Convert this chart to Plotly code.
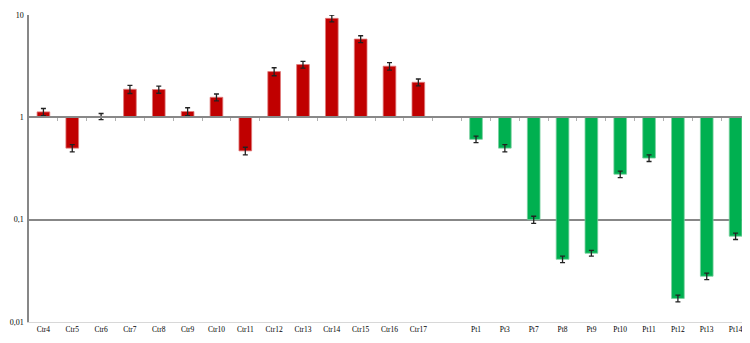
import plotly.graph_objects as go

ctr_labels = ["Ctr4", "Ctr5", "Ctr6", "Ctr7", "Ctr8", "Ctr9", "Ctr10", "Ctr11",
              "Ctr12", "Ctr13", "Ctr14", "Ctr15", "Ctr16", "Ctr17"]
ctr_values = [1.13, 0.50, 1.02, 1.88, 1.87, 1.14, 1.57, 0.47,
              2.80, 3.28, 9.27, 5.82, 3.16, 2.20]
ctr_err = [0.09, 0.04, 0.07, 0.17, 0.15, 0.10, 0.12, 0.04,
           0.25, 0.25, 0.70, 0.45, 0.27, 0.17]

pt_labels = ["Pt1", "Pt3", "Pt7", "Pt8", "Pt9", "Pt10", "Pt11", "Pt12", "Pt13", "Pt14"]
pt_values = [0.61, 0.50, 0.10, 0.041, 0.047, 0.278, 0.40, 0.017, 0.028, 0.069]
pt_err = [0.045, 0.04, 0.008, 0.003, 0.003, 0.02, 0.03, 0.0013, 0.002, 0.005]

gap_label = [" "]
all_categories = ctr_labels + gap_label + pt_labels

y_tick_vals = [0.01, 0.1, 1, 10]
y_tick_text = ["0,01", "0,1", "1", "10"]

baseline = 1
font_family = "Liberation Serif"

fig = go.Figure()

def add_bars(labels, values, errs, color, edge):
    fig.add_trace(go.Bar(
        x=labels,
        y=[v - baseline for v in values],
        base=baseline,
        width=0.44,
        marker=dict(color=color, line=dict(color=edge, width=0.8)),
        error_y=dict(type="data", array=errs, arrayminus=errs,
                     color="#222222", thickness=1.3, width=2.5, visible=True),
        showlegend=False,
        hoverinfo="x+y",
    ))

add_bars(ctr_labels, ctr_values, ctr_err, "#C00000", "#E07A7A")
add_bars(pt_labels, pt_values, pt_err, "#00B050", "#7ACFA0")

# invisible helper so the tick-mark axis at y=1 is rendered
fig.add_trace(go.Scatter(x=[0], y=[baseline], xaxis="x2", mode="markers",
                         marker=dict(opacity=0), showlegend=False, hoverinfo="skip"))

fig.update_layout(
    width=742, height=335,
    margin=dict(l=21, r=0, t=7, b=21, autoexpand=False),
    paper_bgcolor="white", plot_bgcolor="white",
    font=dict(family=font_family, size=8, color="#000000"),
    bargap=0.5,
    xaxis=dict(
        type="category", categoryorder="array", categoryarray=all_categories,
        range=[-0.5, len(all_categories) - 0.5], automargin=False,
        showgrid=False, showline=True, linecolor="#d8d8d8", linewidth=1,
        ticks="", tickfont=dict(family=font_family, size=7.5),
        zeroline=False,
    ),
    xaxis2=dict(
        overlaying="x", anchor="free", position=2 / 3, side="bottom",
        range=[-0.5, len(all_categories) - 0.5], automargin=False,
        tickvals=[i + 0.5 for i in range(len(all_categories) - 1)],
        showticklabels=False, ticks="outside", ticklen=3, tickcolor="#b0b0b0",
        showline=True, linecolor="#888888", linewidth=1.5,
        showgrid=False, zeroline=False, fixedrange=True,
    ),
    yaxis=dict(
        type="log", range=[-2, 1], automargin=False,
        tickvals=y_tick_vals, ticktext=y_tick_text,
        showgrid=True, gridcolor="#878787", gridwidth=1.5,
        showline=True, linecolor="#878787", linewidth=1.5,
        ticks="", ticklen=0, ticklabelstandoff=2,
        tickfont=dict(family=font_family, size=8),
        zeroline=False,
    ),
)

fig.write_html("out.html")
